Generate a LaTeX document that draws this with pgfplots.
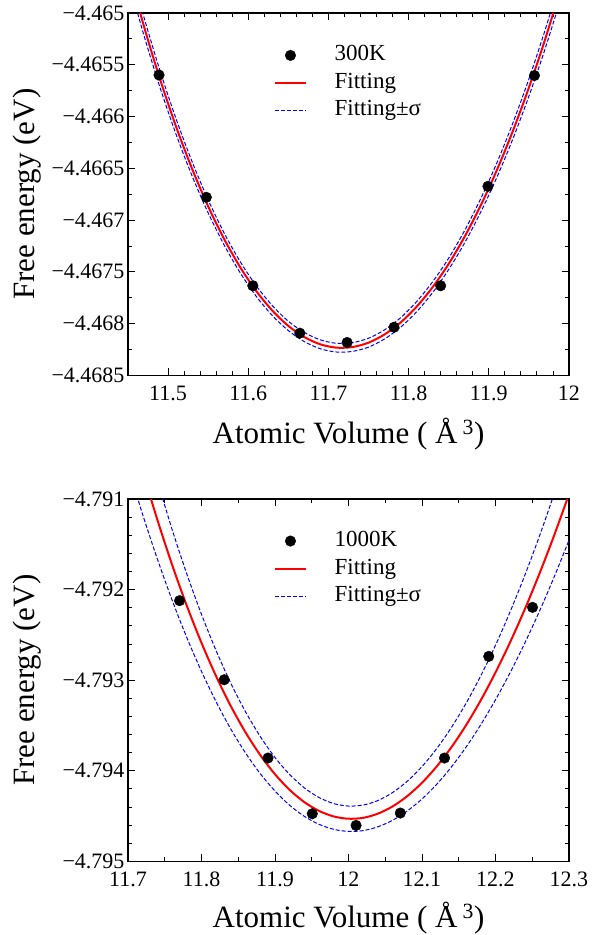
\documentclass[border=0pt]{standalone}
\usepackage{fontspec}
\setmainfont{Liberation Serif}
\usepackage{pgfplots}
\pgfplotsset{compat=1.18}
\usepackage{pgfplotstable}

\pgfplotstableread{
x y
11.4887 -4.465599
11.5477 -4.466780
11.6057 -4.467634
11.6643 -4.468092
11.7233 -4.468182
11.7818 -4.468035
11.8399 -4.467634
11.8989 -4.466674
11.9569 -4.465604
}\datA

\pgfplotstableread{
x fit lo hi
11.45 -4.464570 -4.464666 -4.464474
11.47 -4.465131 -4.465219 -4.465043
11.49 -4.465640 -4.465721 -4.465559
11.51 -4.466098 -4.466173 -4.466023
11.53 -4.466506 -4.466575 -4.466437
11.55 -4.466868 -4.466931 -4.466805
11.57 -4.467184 -4.467242 -4.467126
11.59 -4.467456 -4.467510 -4.467402
11.61 -4.467686 -4.467737 -4.467635
11.63 -4.467874 -4.467922 -4.467826
11.65 -4.468022 -4.468067 -4.467977
11.67 -4.468130 -4.468174 -4.468086
11.69 -4.468200 -4.468243 -4.468157
11.71 -4.468232 -4.468274 -4.468190
11.73 -4.468226 -4.468268 -4.468184
11.75 -4.468184 -4.468227 -4.468141
11.77 -4.468104 -4.468148 -4.468060
11.79 -4.467989 -4.468035 -4.467943
11.81 -4.467836 -4.467885 -4.467787
11.83 -4.467647 -4.467699 -4.467595
11.85 -4.467422 -4.467477 -4.467367
11.87 -4.467158 -4.467218 -4.467098
11.89 -4.466857 -4.466922 -4.466792
11.91 -4.466518 -4.466588 -4.466448
11.93 -4.466139 -4.466216 -4.466062
11.95 -4.465720 -4.465803 -4.465637
11.97 -4.465260 -4.465351 -4.465169
11.99 -4.464757 -4.464856 -4.464658
}\fitA

\pgfplotstableread{
x y
11.7702 -4.792122
11.8309 -4.792995
11.8905 -4.793859
11.9507 -4.794474
12.0103 -4.794603
12.0705 -4.794466
12.1306 -4.793859
12.1908 -4.792737
12.2504 -4.792196
}\datB

\pgfplotstableread{
x fit lo hi
11.70 -4.790113 -4.790641 -4.789585
11.72 -4.790694 -4.791173 -4.790215
11.74 -4.791230 -4.791663 -4.790797
11.76 -4.791726 -4.792116 -4.791336
11.78 -4.792178 -4.792529 -4.791827
11.80 -4.792588 -4.792903 -4.792273
11.82 -4.792958 -4.793240 -4.792676
11.84 -4.793288 -4.793541 -4.793035
11.86 -4.793577 -4.793804 -4.793350
11.88 -4.793827 -4.794032 -4.793622
11.90 -4.794038 -4.794223 -4.793853
11.92 -4.794211 -4.794381 -4.794041
11.94 -4.794346 -4.794503 -4.794189
11.96 -4.794443 -4.794591 -4.794295
11.98 -4.794504 -4.794646 -4.794362
12.00 -4.794529 -4.794669 -4.794389
12.02 -4.794519 -4.794660 -4.794378
12.04 -4.794473 -4.794618 -4.794328
12.06 -4.794393 -4.794546 -4.794240
12.08 -4.794279 -4.794443 -4.794115
12.10 -4.794132 -4.794311 -4.793953
12.12 -4.793952 -4.794149 -4.793755
12.14 -4.793740 -4.793958 -4.793522
12.16 -4.793496 -4.793738 -4.793254
12.18 -4.793221 -4.793491 -4.792951
12.20 -4.792915 -4.793216 -4.792614
12.22 -4.792579 -4.792915 -4.792243
12.24 -4.792214 -4.792588 -4.791840
12.26 -4.791820 -4.792235 -4.791405
12.28 -4.791397 -4.791857 -4.790937
12.30 -4.790947 -4.791455 -4.790439
}\fitB

\pgfplotsset{
  panel/.style={
    scale only axis, width=441pt, height=362.4pt,
    tick align=inside, xtick pos=both, ytick pos=both,
    xticklabel pos=lower, yticklabel pos=left,
    axis line style={line width=1.2pt},
    every tick/.style={black, line width=0.9pt},
    major tick length=7pt, minor tick length=4pt,
    ticklabel style={font=\fontsize{22}{22}\selectfont},
    label style={font=\fontsize{31}{31}\selectfont},
    xticklabel style={yshift=-7pt},
    ylabel style={at={(axis description cs:-0.229,0.5)}, anchor=center, rotate=0},
    ylabel={Free energy (eV)},
    xlabel={Atomic Volume ( Å\,\textsuperscript{3})},
    legend cell align=left,
    legend image code/.code={\draw[mark repeat=2,mark phase=2,#1] plot coordinates {(0pt,0pt) (15.5pt,0pt) (31pt,0pt)};},
    legend style={draw=none, fill=none, anchor=north west, inner sep=0pt, outer sep=0pt,
      font=\fontsize{23}{23}\selectfont,
      nodes={inner sep=0pt, text height=16pt, text depth=5pt},
      row sep=6.5pt,
      /tikz/every odd column/.append style={column sep=27.7pt}},
  },
  dots/.style={only marks, mark=*, mark size=5.3pt, black},
  fitline/.style={red, line width=2pt},
  sigline/.style={blue, line width=1pt, dash pattern=on 4pt off 2pt},
}

\begin{document}
\begin{tikzpicture}
\path[use as bounding box] (0pt,0pt) rectangle (605pt,-935pt);
\begin{axis}[panel, at={(128pt,-13pt)}, anchor=north west,
  xmin=11.45, xmax=12, ymin=-4.4685, ymax=-4.465,
  xtick={11.5,11.6,11.7,11.8,11.9,12},
  xticklabels={11.5,11.6,11.7,11.8,11.9,12},
  minor x tick num=4,
  ytick={-4.4685,-4.468,-4.4675,-4.467,-4.4665,-4.466,-4.4655,-4.465},
  yticklabels={−4.4685,−4.468,−4.4675,−4.467,−4.4665,−4.466,−4.4655,−4.465},
  minor y tick num=1,
  xlabel style={at={(axis description cs:0.5,-0.163)}, anchor=center},
  legend style={at={(axis description cs:0.331,0.912)}},
]
\addlegendimage{dots}
\addlegendentry{300K}
\addlegendimage{fitline}
\addlegendentry{Fitting}
\addlegendimage{sigline}
\addlegendentry{Fitting±σ}
\addplot[sigline, smooth, forget plot] table[x=x, y=lo] {\fitA};
\addplot[sigline, smooth, forget plot] table[x=x, y=hi] {\fitA};
\addplot[fitline, smooth, forget plot] table[x=x, y=fit] {\fitA};
\addplot[dots, forget plot] table[x=x, y=y] {\datA};
\end{axis}

\begin{axis}[panel, at={(128pt,-499pt)}, anchor=north west,
  xmin=11.7, xmax=12.3, ymin=-4.795, ymax=-4.791,
  xtick={11.7,11.8,11.9,12,12.1,12.2,12.3},
  xticklabels={11.7,11.8,11.9,12,12.1,12.2,12.3},
  minor x tick num=1,
  ytick={-4.795,-4.794,-4.793,-4.792,-4.791},
  yticklabels={−4.795,−4.794,−4.793,−4.792,−4.791},
  minor y tick num=4,
  xlabel style={at={(axis description cs:0.5,-0.157)}, anchor=center},
  legend style={at={(axis description cs:0.331,0.913)}},
]
\addlegendimage{dots}
\addlegendentry{1000K}
\addlegendimage{fitline}
\addlegendentry{Fitting}
\addlegendimage{sigline}
\addlegendentry{Fitting±σ}
\addplot[sigline, smooth, forget plot] table[x=x, y=lo] {\fitB};
\addplot[sigline, smooth, forget plot] table[x=x, y=hi] {\fitB};
\addplot[fitline, smooth, forget plot] table[x=x, y=fit] {\fitB};
\addplot[dots, forget plot] table[x=x, y=y] {\datB};
\end{axis}
\end{tikzpicture}
\end{document}
